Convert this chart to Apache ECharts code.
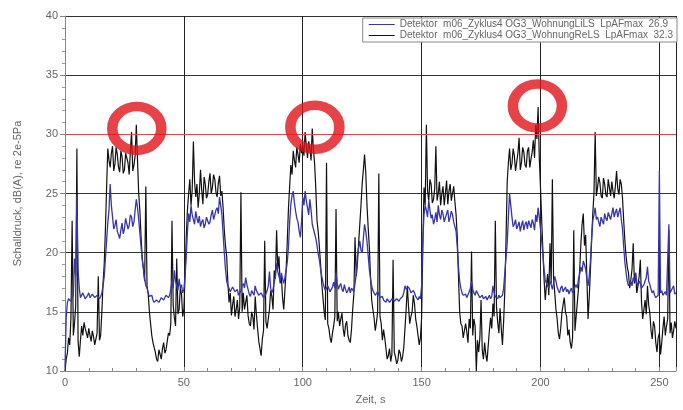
<!DOCTYPE html>
<html>
<head>
<meta charset="utf-8">
<script src="https://cdn.jsdelivr.net/npm/echarts@6/dist/echarts.min.js"></script>
<style>
html,body{margin:0;padding:0;background:#fff;}
#c{width:683px;height:410px;}
</style>
</head>
<body>
<div id="c"></div>
<script>
// Level arrays: values on whole seconds (t = 0..257 s) and on half seconds (t = 0.5..256.5 s)

// Blue: Detektor m06_Zyklus4 OG3_WohnungLiLS
const levelLiLS = [
10.3,15.8,16.0,16.2,19.5,24.8,17.0,16.3,16.5,16.2,
16.6,16.3,16.4,16.1,16.5,16.3,17.2,19.5,22.5,25.8,
23.0,22.3,21.8,21.2,22.5,22.0,22.8,22.3,23.0,22.6,
24.5,22.8,20.5,18.6,17.2,16.6,16.2,16.0,15.8,16.1,
16.0,16.3,16.1,16.5,16.4,17.6,18.5,17.2,17.8,17.3,
16.9,19.7,23.3,24.0,22.8,23.5,22.5,22.2,22.8,22.4,
23.0,22.6,23.6,23.2,23.8,24.7,23.2,20.0,17.6,17.0,
16.8,17.2,16.6,16.4,16.8,17.4,17.9,16.9,16.3,16.6,
17.2,16.6,16.3,16.4,16.1,16.8,18.4,16.6,17.5,19.1,
18.0,18.3,17.4,18.5,20.5,24.1,25.2,23.5,22.6,21.3,
24.7,25.2,23.8,24.5,22.4,21.6,20.6,19.4,18.0,17.1,
16.9,17.3,16.9,17.5,18.3,16.9,17.4,16.7,16.9,16.8,
16.6,16.9,17.4,19.7,21.0,20.0,22.4,21.0,18.6,17.2,
16.6,16.3,16.6,16.1,16.0,15.8,16.0,15.9,16.0,15.8,
16.0,16.1,16.3,17.2,16.8,16.9,16.5,16.6,16.2,16.3,
17.2,23.2,23.6,24.4,22.9,22.4,23.4,24.0,22.8,23.3,
22.7,23.6,23.0,23.2,22.5,20.5,17.6,16.6,16.3,16.2,
16.7,17.6,16.6,16.8,16.4,16.2,16.1,16.3,16.2,16.1,
17.2,16.3,16.1,16.2,16.4,18.3,20.8,25.0,23.0,22.4,
22.0,22.6,22.3,21.9,22.6,22.7,22.1,22.5,23.2,23.8,
22.0,19.9,17.7,17.2,17.6,16.9,18.0,17.1,16.6,17.2,
16.9,16.7,16.5,17.0,16.8,17.3,17.8,18.8,19.3,18.6,
17.2,19.3,22.7,23.8,23.0,22.2,22.9,23.3,22.7,23.5,
23.3,23.0,23.7,23.4,22.8,20.5,18.3,17.2,17.6,17.9,
18.3,17.2,17.4,17.1,17.6,18.8,17.3,16.6,16.4,16.3,
26.9,16.8,16.5,16.4,22.4,16.8,17.2,16.6
];
const levelLiLSHalf = [
14.5,16.1,15.9,16.4,18.0,18.5,16.2,16.6,16.1,16.4,
16.2,16.5,16.2,16.4,16.1,16.6,18.0,21.0,23.6,24.0,
22.0,22.8,21.5,21.9,21.6,22.9,22.0,23.2,22.2,23.6,
23.8,21.6,19.4,17.8,17.0,16.3,16.4,15.8,16.0,15.8,
16.2,16.0,16.4,16.2,16.9,17.0,17.6,16.8,17.0,16.6,
18.0,21.8,22.6,23.2,22.4,22.9,23.1,22.6,22.1,23.0,
22.4,23.2,22.8,23.6,23.3,24.0,21.6,18.6,17.2,16.7,
17.1,16.7,16.9,16.6,17.2,17.0,17.3,16.5,16.8,16.4,
16.8,16.4,16.6,16.2,16.5,17.2,17.0,16.9,18.0,18.4,
17.6,17.8,17.9,19.2,22.6,24.8,24.2,22.9,21.8,22.6,
24.0,24.4,23.2,23.6,22.0,21.2,19.9,18.6,17.5,16.8,
17.2,16.7,17.1,17.0,17.4,17.2,16.9,17.3,16.6,17.1,
17.0,16.7,18.2,20.4,20.2,21.2,21.8,19.8,17.8,16.8,
16.4,16.7,16.2,16.3,15.9,16.1,15.8,16.1,15.9,16.1,
15.9,16.2,16.6,16.9,17.1,16.6,16.8,16.3,16.0,16.1,
21.0,24.0,23.0,23.6,23.2,22.8,22.6,23.2,23.6,22.6,
23.3,22.6,23.5,22.6,21.8,18.8,17.0,16.4,16.5,16.3,
17.0,16.9,16.4,16.6,16.2,16.4,16.2,16.0,16.4,16.3,
16.6,16.2,16.4,16.1,17.0,19.6,23.0,24.0,22.2,22.8,
22.3,21.8,22.7,22.4,22.0,22.4,22.8,21.9,22.6,23.0,
21.0,18.6,17.4,17.0,17.3,17.4,17.6,16.8,17.0,16.7,
17.1,16.9,16.8,16.6,17.1,17.0,18.2,18.4,19.0,17.8,
18.0,21.2,23.2,22.8,22.6,23.0,22.4,22.9,23.4,22.8,
23.8,23.4,23.0,23.8,22.0,19.2,17.6,17.4,17.2,17.6,
17.5,17.6,17.0,17.3,17.9,17.6,16.9,16.8,16.2,16.4,
16.6,16.4,16.7,16.5,16.6,16.9,16.5
];

// Black: Detektor m06_Zyklus4 OG3_WohnungReLS
const levelReLS = [
10.0,11.5,12.2,22.7,14.0,28.8,11.2,13.8,14.1,13.2,
13.6,12.5,12.9,12.1,18.0,13.0,17.4,22.0,28.8,27.2,
29.0,27.5,28.3,26.8,28.1,27.0,28.5,26.6,30.2,27.4,
30.8,25.0,21.3,18.6,25.6,16.5,14.0,12.4,11.6,10.8,
11.4,11.9,11.5,12.5,13.0,22.7,14.5,19.5,15.2,16.5,
15.2,21.3,25.0,24.0,29.4,24.7,23.8,27.0,24.1,25.8,
24.9,26.7,25.5,26.2,24.7,26.5,25.2,21.9,19.7,15.8,
14.7,16.3,15.2,14.4,25.1,16.6,15.8,14.7,13.8,14.6,
16.3,13.6,11.9,12.7,21.0,13.6,15.2,16.3,18.5,21.9,
19.7,18.0,15.2,18.5,23.8,27.4,28.6,27.2,28.3,29.2,
29.1,30.2,28.0,28.8,30.5,27.5,22.7,20.5,17.4,15.0,
27.6,13.6,12.4,13.8,23.7,15.0,14.4,13.6,13.9,13.0,
12.4,15.2,21.3,19.1,22.4,25.8,28.3,24.1,20.5,16.0,
14.5,14.1,26.7,14.0,13.5,11.9,11.3,10.8,19.4,11.2,
10.9,11.5,11.2,13.6,17.2,14.0,15.0,15.7,13.8,12.2,
14.5,25.5,30.8,24.4,25.8,24.5,29.0,25.0,24.0,25.6,
25.0,24.1,25.8,25.0,24.3,21.3,15.0,13.8,12.7,13.3,
14.4,20.1,14.4,10.0,11.6,16.0,11.0,11.4,12.1,14.5,
15.7,22.7,14.1,15.3,12.2,16.8,26.0,28.8,27.5,28.2,
26.8,29.7,27.6,28.5,27.2,28.9,27.9,29.5,30.8,32.3,
25.5,20.2,16.0,18.2,20.8,26.2,16.6,14.4,12.7,14.9,
16.2,14.6,13.5,11.9,21.9,14.6,17.0,20.8,23.3,21.5,
14.4,18.5,23.3,30.2,25.5,25.9,24.6,25.8,24.7,25.5,
26.0,24.6,26.9,24.9,25.8,22.7,19.7,18.3,17.7,20.8,
18.3,17.2,19.4,14.4,16.0,17.2,14.9,12.7,13.8,11.6,
13.2,12.4,14.6,13.8,21.9,14.1,13.4,13.6
];
const levelReLSHalf = [
11.0,12.8,14.5,13.0,15.5,12.5,12.6,13.0,13.6,12.8,
13.0,13.4,12.2,13.2,12.6,15.0,19.0,25.5,27.8,28.4,
26.9,28.9,27.2,28.6,26.7,28.4,27.6,28.6,26.9,28.2,
27.8,23.5,19.5,17.6,17.2,15.0,13.0,12.0,11.0,11.8,
11.0,12.4,11.8,13.2,14.0,15.6,13.8,14.8,17.0,14.6,
18.0,23.6,26.2,25.3,26.0,25.8,25.0,25.3,26.4,24.6,
26.0,25.0,26.6,25.1,25.9,24.8,23.8,20.6,17.5,16.6,
15.6,14.6,16.0,15.4,15.0,15.2,16.4,14.0,15.0,13.5,
14.8,12.5,11.3,13.4,14.2,14.4,16.8,15.2,17.8,18.6,
17.4,16.2,16.8,21.0,25.6,26.6,27.8,28.9,27.6,28.4,
28.2,29.0,29.4,27.8,28.7,25.4,21.8,19.0,16.2,14.3,
14.0,12.8,13.2,14.6,14.2,13.8,14.9,12.9,14.2,12.6,
13.5,16.5,18.0,20.8,24.0,27.0,26.8,22.2,18.0,15.2,
13.4,15.0,14.6,12.6,12.8,11.0,11.9,11.4,11.6,10.6,
11.8,10.8,12.0,15.2,15.4,14.6,16.4,14.4,13.0,12.8,
20.5,24.0,25.2,26.2,24.2,25.4,24.4,26.0,25.0,24.0,
26.1,25.2,24.4,25.6,23.2,18.0,14.0,12.8,14.0,12.4,
13.6,13.0,13.8,12.6,12.8,11.8,12.4,10.8,13.4,13.6,
14.6,15.4,13.2,13.6,14.2,21.0,27.6,27.0,28.8,26.9,
28.4,27.0,28.9,27.4,28.6,27.2,28.5,28.0,29.6,28.0,
22.8,17.8,17.2,16.4,17.4,17.8,15.2,13.2,13.6,15.6,
15.0,13.0,12.4,12.8,13.4,15.8,18.6,22.4,20.6,18.0,
16.2,21.0,25.0,24.8,26.4,24.8,26.3,24.9,26.2,24.8,
25.2,25.6,25.4,26.2,24.6,21.0,18.8,17.0,18.6,17.4,
16.6,18.0,15.8,15.2,14.8,15.6,13.4,14.2,12.4,12.8,
11.4,13.6,13.0,14.4,13.2,12.8,14.2
];

// Limit line and highlighted exceedances
const limitLevel = 30;
const markTimes = [30.2, 105.1, 198.7];
const markLevels = [30.5, 30.6, 32.4];

const nameLiLS = 'Detektor  m06_Zyklus4 OG3_WohnungLiLS  LpAFmax  26.9';
const nameReLS = 'Detektor  m06_Zyklus4 OG3_WohnungReLS  LpAFmax  32.3';

function toPairs(whole, half) {
  const out = [];
  for (let i = 0; i < whole.length; i++) {
    out.push([i, whole[i]]);
    if (i < half.length) out.push([i + 0.5, half[i]]);
  }
  return out;
}

const chart = echarts.init(document.getElementById('c'), null, {renderer: 'canvas'});
const labelColor = '#666';
chart.setOption({
  animation: false,
  backgroundColor: '#fff',
  grid: {left: 65, right: 7, top: 16, bottom: 34, containLabel: false},
  legend: {
    orient: 'vertical',
    right: 6, top: 18,
    itemWidth: 26, itemHeight: 1,
    itemGap: 0,
    padding: [1, 4, 1, 6],
    borderColor: '#888', borderWidth: 1,
    backgroundColor: '#fff',
    icon: 'rect',
    textStyle: {fontSize: 10, color: '#666', fontFamily: 'Liberation Sans', lineHeight: 11, padding: [0,0,0,0]},
    data: [nameLiLS, nameReLS]
  },
  xAxis: {
    type: 'value', min: 0, max: 257, interval: 50,
    name: 'Zeit, s', nameLocation: 'middle', nameGap: 23,
    nameTextStyle: {fontSize: 11, color: labelColor, fontFamily: 'Liberation Sans'},
    axisLine: {show: true, lineStyle: {color: '#888'}},
    axisTick: {show: true, inside: true, length: 4, lineStyle: {color: '#888'}},
    minorTick: {show: true, splitNumber: 5, length: 3, lineStyle: {color: '#888'}},
    axisLabel: {fontSize: 11, color: labelColor, margin: 6, showMaxLabel: false, fontFamily: 'Liberation Sans'},
    splitLine: {show: true, lineStyle: {color: '#222', width: 1}}
  },
  yAxis: {
    type: 'value', min: 10, max: 40, interval: 5,
    name: 'Schalldruck, dB(A), re 2e-5Pa', nameLocation: 'middle', nameGap: 42,
    nameTextStyle: {fontSize: 11, color: labelColor, fontFamily: 'Liberation Sans'},
    axisLine: {show: true, lineStyle: {color: '#888'}},
    axisTick: {show: true, length: 5, lineStyle: {color: '#888'}},
    minorTick: {show: true, splitNumber: 5, length: 3, lineStyle: {color: '#999'}},
    axisLabel: {fontSize: 11, color: labelColor, margin: 7, fontFamily: 'Liberation Sans'},
    splitLine: {show: true, lineStyle: {color: '#333', width: 1.2}}
  },
  series: [
    {
      name: nameReLS, type: 'line', data: toPairs(levelReLS, levelReLSHalf),
      symbol: 'none', lineStyle: {color: '#111', width: 1.2}, itemStyle: {color: '#111'}, z: 2,
      markLine: {
        silent: true, symbol: 'none', label: {show: false},
        lineStyle: {color: '#e8474c', width: 1, type: 'solid'},
        data: [{yAxis: limitLevel}]
      }
    },
    {
      name: nameLiLS, type: 'line', data: toPairs(levelLiLS, levelLiLSHalf),
      symbol: 'none', lineStyle: {color: '#3636aa', width: 1.3}, itemStyle: {color: '#3636aa'}, z: 3
    },
    {
      type: 'scatter', z: 5,
      data: markTimes.map((t, i) => [t, markLevels[i]]),
      symbol: 'circle', symbolSize: [49, 44],
      itemStyle: {color: 'rgba(0,0,0,0)', borderColor: '#e0141a', borderWidth: 10}
    }
  ]
});
</script>
</body>
</html>
